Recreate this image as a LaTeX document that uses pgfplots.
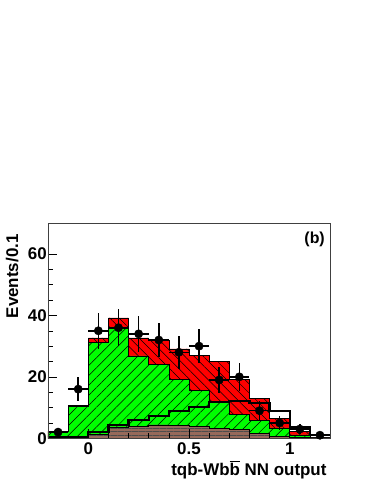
\documentclass[border=0pt]{standalone}
\usepackage{fontspec}
\setmainfont{Liberation Sans}
\usepackage{pgfplots}
\pgfplotsset{compat=1.18}
\usetikzlibrary{patterns.meta}

\definecolor{hgreen}{RGB}{0,255,0}
\definecolor{hred}{RGB}{255,0,0}
\definecolor{hbrown}{RGB}{150,105,90}

\newcommand{\bigfont}{\fontsize{17}{18}\selectfont\bfseries}

\begin{document}
\begin{tikzpicture}
\useasboundingbox (0,0) rectangle (374bp,484bp);
\begin{axis}[
    at={(48bp,45.7bp)}, anchor=south west,
    scale only axis,
    width=282bp, height=215bp,
    xmin=-0.2, xmax=1.2,
    ymin=0, ymax=70,
    xtick={0,0.5,1},
    xticklabels={0,0.5,1},
    ytick={0,20,40,60},
    minor x tick num=4,
    minor y tick num=3,
    tick align=inside,
    tick pos=left,
    major tick length=9bp,
    minor tick length=5bp,
    tick style={black, line width=0.6pt},
    axis line style={black!75, line width=0.7pt},
    /pgf/number format/assume math mode=true,
    ticklabel style={font=\bigfont},
    yticklabel style={anchor=east, inner sep=0pt, xshift=-1bp},
    xticklabel style={anchor=north, inner sep=0pt, yshift=-4.5bp},
    xlabel={tqb-Wb$\overline{\mbox{b}}$ NN output},
    xlabel style={font=\bigfont, at={(axis description cs:1,0)}, anchor=base east, yshift=-37bp},
    ylabel={Events/0.1},
    ylabel style={font=\bigfont, at={(axis description cs:-0.106,0.965)}, anchor=base east},
    axis on top,
    clip=true,
]

% total stack (top of red)
\addplot[const plot, fill=hred, draw=black, line width=0.5pt,
    postaction={pattern={Lines[angle=-45,distance=6.5bp,line width=0.5pt]}, pattern color=black}]
coordinates {(-0.2,2.3) (-0.1,10.6) (0,32.7) (0.1,39.2) (0.2,32.7) (0.3,31.9) (0.4,29.1)
    (0.5,26.9) (0.6,25.0) (0.7,19.1) (0.8,12.9) (0.9,6.5) (1.0,2.3) (1.1,0.4) (1.2,0.4)} \closedcycle;

% green stack
\addplot[const plot, fill=hgreen, draw=black, line width=0.5pt,
    postaction={pattern={Lines[angle=45,distance=7bp,line width=0.5pt]}, pattern color=black}]
coordinates {(-0.2,2.2) (-0.1,10.5) (0,31.3) (0.1,35.7) (0.2,26.8) (0.3,24.0) (0.4,19.3)
    (0.5,15.6) (0.6,11.8) (0.7,7.9) (0.8,5.8) (0.9,3.4) (1.0,1.1) (1.1,0.3) (1.2,0.3)} \closedcycle;

% brown
\addplot[const plot, fill=hbrown, draw=black, line width=0.5pt,
    postaction={pattern={Lines[angle=0,distance=3.5bp,line width=0.4pt]}, pattern color=black!70}]
coordinates {(-0.2,0.2) (-0.1,0.3) (0,1.3) (0.1,3.7) (0.2,4.0) (0.3,4.4) (0.4,4.1)
    (0.5,3.8) (0.6,3.3) (0.7,2.9) (0.8,1.6) (0.9,0.6) (1.0,0.3) (1.1,0.1) (1.2,0.1)} \closedcycle;

% signal outline
\addplot[const plot, draw=black, line width=2.3bp]
coordinates {(-0.2,0.3) (-0.1,0.5) (0,2.0) (0.1,4.3) (0.2,6.0) (0.3,7.2) (0.4,8.8)
    (0.5,10.2) (0.6,11.9) (0.7,12.1) (0.8,11.5) (0.9,8.8) (1.0,3.6) (1.1,1.0) (1.2,1.0)};

% data
\addplot[only marks, mark=*, mark size=4.2bp, black,
    error bars/.cd, x dir=both, x explicit, y dir=both, y explicit,
    error mark=none, error bar style={line width=1.5bp, black}]
coordinates {
    (-0.15,2) +- (0.05,1.41)
    (-0.05,16) +- (0.05,4.0)
    (0.05,35) +- (0.05,5.92)
    (0.15,36) +- (0.05,6.0)
    (0.25,34) +- (0.05,5.83)
    (0.35,32) +- (0.05,5.66)
    (0.45,28) +- (0.05,5.29)
    (0.55,30) +- (0.05,5.48)
    (0.65,19) +- (0.05,4.36)
    (0.75,20) +- (0.05,4.47)
    (0.85,9) +- (0.05,3.0)
    (0.95,5) +- (0.05,2.24)
    (1.05,3) +- (0.05,1.73)
    (1.15,1) +- (0.05,1.0)
};

\node[anchor=north east, font=\fontsize{16}{17}\selectfont\bfseries, inner sep=0pt]
    at (rel axis cs:1,1) [xshift=-5bp, yshift=-8bp] {(b)};
\end{axis}
\end{tikzpicture}
\end{document}
